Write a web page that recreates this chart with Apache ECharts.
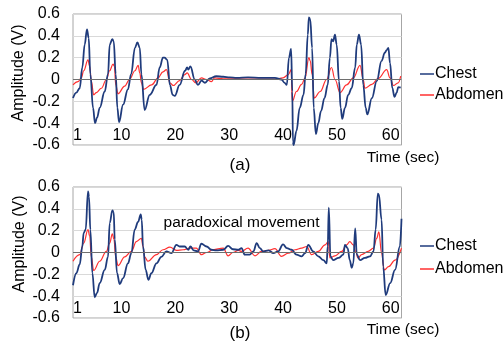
<!DOCTYPE html>
<html>
<head>
<meta charset="utf-8">
<script src="https://cdn.jsdelivr.net/npm/echarts@6/dist/echarts.min.js"></script>
<style>
  html, body { margin: 0; padding: 0; background: #fff; }
  #chart { width: 503px; height: 345px; }
</style>
</head>
<body>
<div id="chart"></div>
<script>
// x tick labels (seconds)
const timeTicks = [1, 10, 20, 30, 40, 50, 60];

// (a) chest signal, [time, amplitude]
const chestA = [
  [1.0,-0.17],[1.62,-0.12],[2.24,-0.08],[2.73,0.11],[3.17,0.32],[3.6,0.46],[3.91,0.38],[4.22,0.05],
  [4.72,-0.26],[5.09,-0.40],[5.46,-0.35],[5.96,-0.26],[6.89,-0.11],[7.5,0.05],[7.82,0.32],[8.31,0.37],
  [8.56,0.35],[8.93,0.05],[9.24,-0.26],[9.55,-0.39],[10.3,-0.23],[11.2,-0.09],[11.8,0.05],[12.5,0.29],
  [12.96,0.34],[13.4,0.29],[13.7,0.05],[14.3,-0.28],[15.25,-0.14],[16.5,-0.05],[17.1,0.11],[17.7,0.2],
  [18.0,0.2],[18.5,0.18],[19.0,-0.05],[19.5,-0.14],[19.9,-0.15],[20.8,-0.05],[21.8,0.08],[22.2,0.11],
  [22.4,0.09],[22.8,0.12],[23.6,0.0],[24.2,-0.05],[24.85,-0.01],[25.5,-0.03],[26.4,0.01],[27.6,0.03],
  [28.9,0.025],[30.1,0.02],[31.4,0.015],[33.5,0.02],[36,0.015],[38.5,0.015],[39.7,0.0],[40.3,-0.03],
  [40.7,-0.05],[41.1,0.2],[41.5,0.28],[41.72,-0.11],[41.84,-0.57],[41.96,-0.6],[42.5,-0.47],[43.1,-0.26],
  [43.8,-0.14],[44.2,0.05],[44.6,0.41],[44.8,0.57],[45.06,0.55],[45.4,0.29],[45.7,-0.26],[46.1,-0.50],
  [46.55,-0.40],[47.05,-0.29],[47.7,-0.17],[48.3,-0.05],[48.7,0.2],[49.0,0.37],[49.3,0.35],[49.65,0.41],
  [49.96,0.32],[50.4,-0.015],[50.7,-0.26],[51.0,-0.36],[51.5,-0.26],[52.1,-0.14],[52.75,-0.08],[53.4,0.11],
  [53.7,0.32],[54.1,0.41],[54.5,0.32],[54.9,-0.05],[55.35,-0.26],[55.65,-0.32],[56.5,-0.17],[57.4,-0.015],
  [58.3,0.17],[58.9,0.245],[59.25,0.27],[59.56,0.29],[59.87,0.15],[60.3,-0.08],[60.7,-0.16],[61.1,-0.12],
  [61.4,-0.07],[61.85,-0.075]
];

// (a) abdomen signal
const abdomenA = [
  [1.0,-0.05],[1.93,-0.02],[2.55,0.015],[2.98,0.08],[3.79,0.18],[4.1,0.12],[4.4,-0.015],[4.84,-0.14],
  [5.34,-0.12],[6.27,-0.08],[7.2,0.0],[7.8,0.08],[8.43,0.14],[8.7,0.12],[8.93,-0.05],[9.36,-0.13],
  [10.6,-0.06],[11.5,0.0],[12.5,0.08],[13.1,0.13],[13.4,0.06],[13.7,-0.03],[14.1,-0.09],[15.6,-0.05],
  [16.8,0.015],[17.7,0.07],[18.35,0.09],[19.0,-0.03],[19.6,-0.055],[20.8,-0.01],[21.75,0.045],[22.2,0.06],
  [23.0,0.0],[23.8,-0.03],[24.85,0.015],[25.8,0.0],[26.7,-0.02],[27.3,0.015],[28.9,0.006],[31.4,0.006],
  [34.8,0.003],[38.5,0.003],[40.0,0.015],[41.0,0.045],[41.5,0.09],[41.72,-0.2],[42.5,-0.11],[43.45,-0.045],
  [44.1,0.015],[44.8,0.2],[45.06,0.17],[45.4,0.045],[45.8,-0.17],[46.9,-0.11],[48.1,0.0],[49.0,0.11],
  [49.65,0.0],[50.6,-0.12],[51.8,-0.05],[53.05,0.015],[54.3,0.13],[54.9,0.0],[55.2,-0.08],[56.5,-0.045],
  [57.7,0.01],[59.25,0.09],[59.87,0.015],[60.5,-0.055],[61.4,-0.03],[61.85,0.03]
];

// (b) chest signal
const chestB = [
  [1,-0.30],[1.62,-0.19],[2.24,-0.11],[2.73,0.055],[2.98,0.18],[3.35,0.21],[3.79,0.56],[3.97,0.51],
  [4.22,0.21],[4.6,-0.19],[5.03,-0.41],[5.46,-0.37],[5.96,-0.28],[6.89,-0.16],[7.5,-0.04],[7.82,0.27],
  [8.31,0.385],[8.56,0.37],[8.75,0.12],[9.18,-0.19],[9.67,-0.29],[10.3,-0.235],[11.2,-0.1],[11.84,-0.006],
  [12.46,0.21],[13.08,0.28],[13.58,0.35],[13.76,0.3],[14.0,0.055],[14.5,-0.16],[15.0,-0.25],[15.56,-0.19],
  [16.5,-0.1],[17.4,-0.04],[18.35,0.01],[19.28,-0.006],[20.2,0.07],[20.8,0.055],[21.75,0.055],[22.4,0.025],
  [22.8,0.055],[23.4,0.02],[24.2,0.01],[24.85,0.08],[25.8,0.055],[26.7,0.025],[27.6,0.02],[28.9,0.025],
  [29.8,0.06],[30.7,0.03],[31.7,0.025],[32.3,0.04],[32.9,-0.02],[33.8,-0.02],[34.5,0.01],[35.1,0.085],
  [35.7,0.04],[36.3,0.01],[37.3,0.02],[38.2,-0.006],[39.1,0.01],[40.0,0.075],[40.7,0.04],[41.6,0.025],
  [42.5,-0.02],[43.45,-0.035],[44.1,-0.006],[44.7,0.07],[45.6,0.01],[46.55,-0.035],[47.5,-0.07],[48.1,-0.1],
  [48.3,0.055],[48.5,0.41],[48.8,-0.035],[49.3,-0.07],[50.3,-0.05],[51.2,-0.02],[51.5,0.07],[52.0,0.04],
  [52.4,-0.07],[52.75,-0.14],[53.05,-0.1],[53.4,0.22],[53.7,-0.02],[54.3,-0.07],[55.2,-0.05],[56.15,-0.035],
  [56.8,0.01],[57.2,0.21],[57.6,0.54],[57.8,0.53],[58.3,0.3],[58.6,-0.13],[59.06,-0.39],[59.9,-0.28],
  [60.8,-0.16],[61.7,0.055],[62.0,0.31]
];

// (b) abdomen signal
const abdomenB = [
  [1,-0.08],[2.24,-0.02],[2.98,0.085],[3.79,0.21],[4.1,0.15],[4.4,-0.04],[4.84,-0.165],[5.96,-0.08],
  [7.2,0.01],[7.8,0.085],[8.31,0.17],[8.6,0.12],[8.93,-0.04],[9.36,-0.12],[10.6,-0.04],[11.84,0.01],
  [12.77,0.1],[13.7,0.13],[14.0,0.055],[14.3,-0.04],[14.9,-0.08],[16.5,-0.02],[17.7,0.025],[19.0,0.05],
  [20.2,0.02],[21.45,0.025],[22.7,0.04],[23.9,0.04],[24.85,-0.02],[25.8,0.0],[27.0,0.025],[28.9,0.04],
  [29.8,-0.03],[30.7,0.0],[31.7,0.02],[32.3,0.01],[33.5,0.04],[34.8,-0.03],[36.0,0.01],[37.3,0.02],
  [38.5,0.035],[39.7,-0.035],[41.0,-0.006],[42.2,0.025],[43.45,0.04],[44.4,0.055],[45.3,-0.02],[46.55,0.01],
  [47.8,0.07],[48.4,0.1],[48.7,-0.05],[49.65,-0.03],[50.9,0.01],[51.8,0.07],[52.4,0.1],[53.05,0.07],
  [53.5,0.01],[53.9,-0.05],[54.6,-0.02],[55.8,0.01],[56.8,0.04],[57.4,0.13],[57.8,0.19],[58.3,-0.006],
  [58.8,-0.16],[59.6,-0.13],[60.8,-0.07],[62.0,0.04]
];

const FONT = "'Liberation Sans', Arial, sans-serif";
const chestColor = '#1f3b7c';
const abdomenColor = '#ff3030';

const chart = echarts.init(document.getElementById('chart'), null, { renderer: 'canvas' });

const makeX = (gi) => ({
  type: 'value',
  gridIndex: gi,
  min: 1,
  max: 62,
  axisLine: { show: false },
  axisTick: { show: false },
  splitLine: { show: false },
  axisLabel: {
    inside: true,
    customValues: timeTicks,
    margin: 1,
    alignMinLabel: 'left',
    color: '#000',
    fontSize: 16,
    fontFamily: FONT
  }
});

const makeY = (gi) => ({
  type: 'value',
  gridIndex: gi,
  min: -0.6,
  max: 0.6,
  interval: 0.2,
  axisLine: { show: false },
  axisTick: { show: false },
  splitLine: { show: true, lineStyle: { color: '#d9d9d9', width: 1 } },
  axisLabel: {
    margin: 13,
    color: '#000',
    fontSize: 16,
    fontFamily: FONT,
    formatter: (v) => String(Math.round(v * 10) / 10)
  }
});

const makeLine = (name, data, gi, color, width, zeroLine) => ({
  name: name,
  type: 'line',
  xAxisIndex: gi,
  yAxisIndex: gi,
  data: data,
  showSymbol: false,
  smooth: 0.4,
  smoothMonotone: 'x',
  color: color,
  lineStyle: { color: color, width: width },
  animation: false,
  markLine: zeroLine ? {
    silent: true,
    symbol: 'none',
    label: { show: false },
    lineStyle: { color: '#6e6e6e', width: 1, type: 'solid' },
    data: [{ yAxis: 0 }]
  } : undefined
});

const legendStyle = (top, gap) => ({
  orient: 'vertical',
  left: 415,
  top: top,
  itemWidth: 14,
  itemHeight: 1.5,
  itemGap: gap,
  icon: 'rect',
  data: ['Chest', 'Abdomen'],
  textStyle: { color: '#000', fontSize: 16, fontFamily: FONT, lineHeight: 16, padding: [0, 0, 0, -4] }
});

const textItem = (text, x, y, size, extra) => Object.assign({
  type: 'text',
  x: x,
  y: y,
  silent: true,
  style: { text: text, fill: '#000', font: size + 'px ' + FONT, align: 'center', verticalAlign: 'middle' }
}, extra || {});

chart.setOption({
  animation: false,
  backgroundColor: '#fff',
  grid: [
    { left: 73, top: 14, width: 328.5, height: 131, show: true, borderColor: '#a6a6a6', borderWidth: 1 },
    { left: 73, top: 187, width: 328.5, height: 131, show: true, borderColor: '#a6a6a6', borderWidth: 1 }
  ],
  xAxis: [makeX(0), makeX(1)],
  yAxis: [makeY(0), makeY(1)],
  legend: [legendStyle(61, 5), legendStyle(233, 7)],
  graphic: [
    textItem('Amplitude (V)', 19, 73, 16, { rotation: Math.PI / 2 }),
    textItem('Amplitude (V)', 20, 244, 16, { rotation: Math.PI / 2 }),
    textItem('Time (sec)', 403, 158, 15.5),
    textItem('Time (sec)', 403, 330, 15.5),
    textItem('(a)', 240, 165.5, 17),
    textItem('(b)', 240, 333, 17),
    textItem('paradoxical movement', 241.5, 222.5, 15.5)
  ],
  series: [
    makeLine('Abdomen', abdomenA, 0, abdomenColor, 1.2, true),
    makeLine('Chest', chestA, 0, chestColor, 1.8, false),
    makeLine('Abdomen', abdomenB, 1, abdomenColor, 1.2, true),
    makeLine('Chest', chestB, 1, chestColor, 1.8, false)
  ]
});
</script>
</body>
</html>
